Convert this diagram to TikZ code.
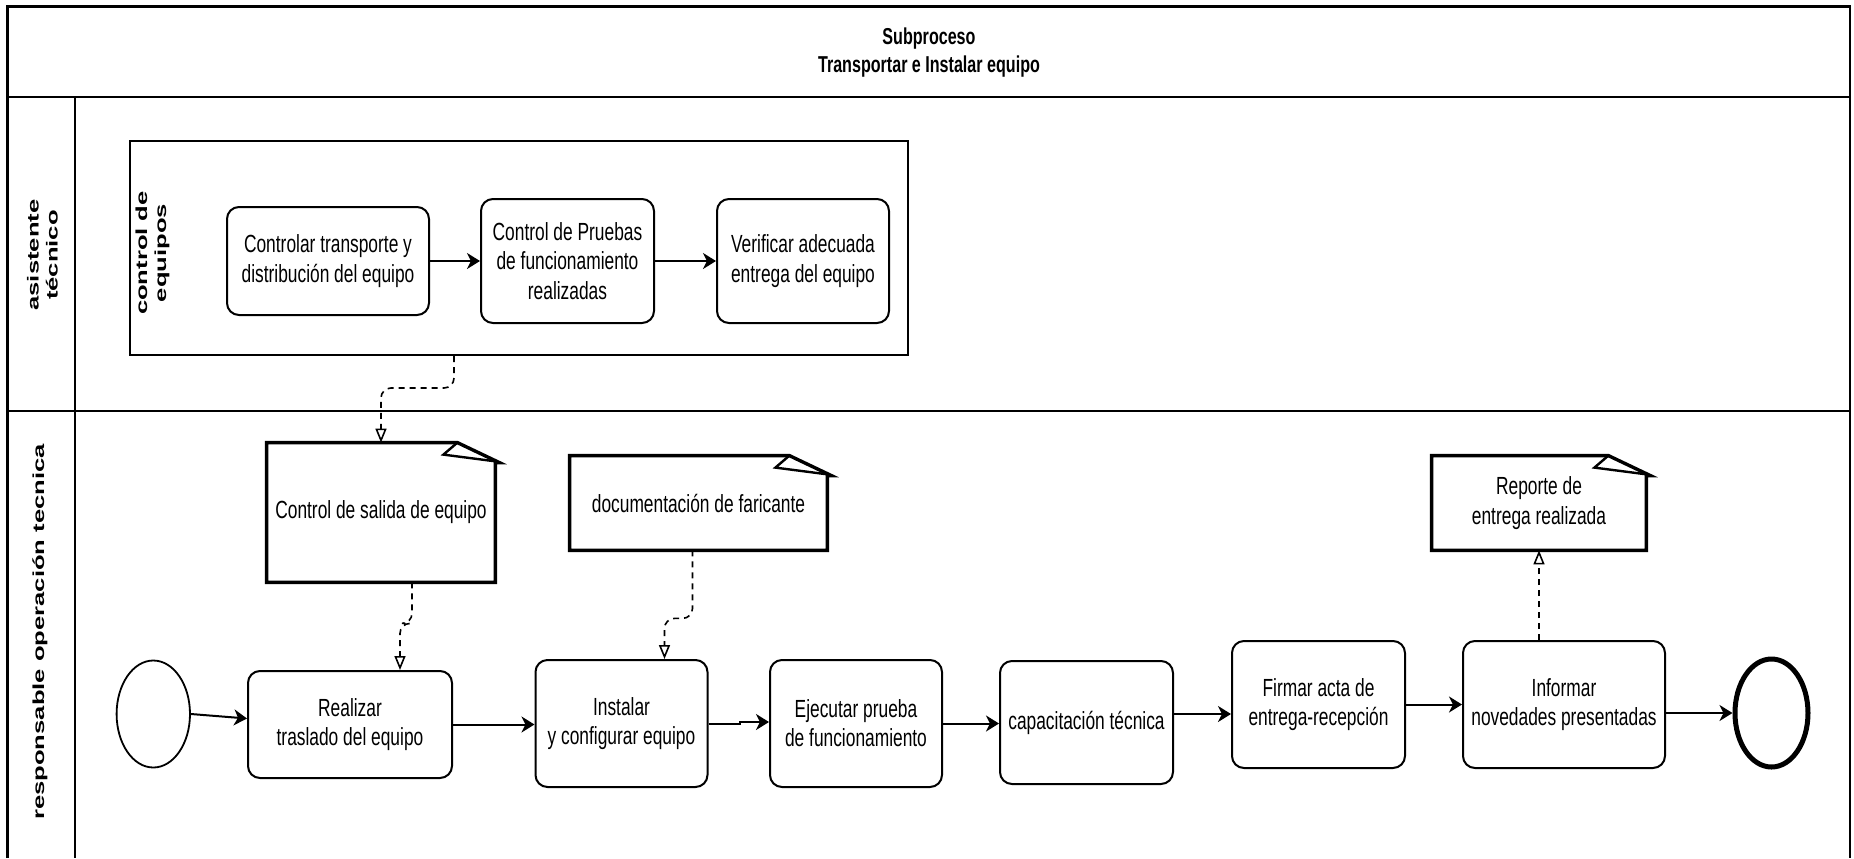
\documentclass[tikz,border=0pt]{standalone}
\usepackage{fontspec}
\setmainfont{Liberation Sans}[FakeStretch=0.7]
\newfontfamily\lanefont{Liberation Sans}[FakeStretch=1.6]
\usetikzlibrary{arrows.meta,shapes.geometric,calc}

\tikzset{
  poolline/.style={line width=1.2pt},
  labeltext/.style={font=\fontsize{12.4}{14.6}\selectfont},
  taskbox/.style={draw, line width=1pt, rounded corners=6pt, align=center,
    inner sep=0pt, labeltext},
  docnode/.style={align=center, inner sep=0pt, labeltext},
  groupbox/.style={draw, line width=1pt, inner sep=0pt},
  startevent/.style={ellipse, draw, line width=0.9pt, inner sep=0pt},
  endevent/.style={ellipse, draw, line width=2.5pt, inner sep=0pt},
  flow/.style={line width=1pt, -{Stealth[length=6.5pt,width=8pt,inset=2pt]}},
  assoc/.style={line width=0.8pt, dash pattern=on 3pt off 2.5pt, rounded corners=5pt,
    -{Triangle[open,length=7pt,width=5.5pt,fill=white]}},
  lanelabel/.style={rotate=90, align=center, inner sep=0pt,
    font=\lanefont\bfseries\fontsize{8}{9.5}\selectfont},
}

% outline of a data object with its folded corner
\newcommand\docoutline[1]{%
  \draw[line width=1.7pt, line join=miter]
    ($(#1.north east)+(-38,0)$) -- (#1.north west) -- (#1.south west)
    -- (#1.south east) -- ($(#1.north east)+(0,20)$) -- ($(#1.north east)+(4,20)$)
    -- cycle;
  \draw[line width=1.2pt, line join=miter]
    ($(#1.north east)+(-38,0)$) -- ($(#1.north east)+(-52,12)$)
    -- ($(#1.north east)+(2,19)$);
}

\begin{document}
\begin{tikzpicture}[x=0.5pt, y=-0.5pt]
\useasboundingbox (0,0) rectangle (1854,858);

% pool frame, title band and lanes
\draw[poolline] (7.5,858) -- (7.5,6.5) -- (1850,6.5) -- (1850,858);
\draw[poolline] (7.5,97) -- (1850,97);
\draw[poolline] (7.5,411) -- (1850,411);
\draw[poolline] (75,97) -- (75,858);

\node[font=\bfseries\fontsize{11.5}{14}\selectfont, align=center] (title) at (929,53)
  {Subproceso\\Transportar e Instalar equipo};

\node[lanelabel] (lane1) at (42.5,255) {asistente\\técnico};
\node[lanelabel] (lane2) at (40,632) {responsable operación tecnica};

% lane 1: control de equipos
\node[groupbox, minimum width=389pt, minimum height=107pt] (grp) at (519,248) {};
\node[lanelabel] (grplabel) at (152.5,253) {control de\\equipos};

\node[taskbox, minimum width=101pt, minimum height=54pt] (ta) at (328,261)
  {Controlar transporte y\\distribución del equipo};
\node[taskbox, minimum width=86.5pt, minimum height=62pt] (tb) at (567.5,261)
  {Control de Pruebas\\de funcionamiento\\realizadas};
\node[taskbox, minimum width=86pt, minimum height=62pt] (tc) at (803,261)
  {Verificar adecuada\\entrega del equipo};

\draw[flow] (ta) -- (tb);
\draw[flow] (tb) -- (tc);

% lane 2: data objects
\node[docnode, minimum width=114pt, minimum height=69.5pt] (d1) at (381,512.5)
  {Control de salida de equipo};
\node[docnode, minimum width=128.5pt, minimum height=47pt] (d2) at (698.5,503)
  {documentación de faricante};
\node[docnode, minimum width=107pt, minimum height=47pt] (d3) at (1539,503)
  {Reporte de\\entrega realizada};
\docoutline{d1}
\docoutline{d2}
\docoutline{d3}

% lane 2: events and tasks
\node[startevent, minimum width=36.7pt, minimum height=53.5pt] (start) at (153.3,714) {};
\node[taskbox, minimum width=102pt, minimum height=53.5pt] (r) at (350,724.5)
  {Realizar\\traslado del equipo};
\node[taskbox, minimum width=86pt, minimum height=63.5pt] (i) at (621.5,723.5)
  {Instalar\\y configurar equipo};
\node[taskbox, minimum width=86pt, minimum height=63.5pt] (e) at (856,723.5)
  {Ejecutar prueba\\de funcionamiento};
\node[taskbox, minimum width=86.5pt, minimum height=61.5pt] (cp) at (1086.5,722.5)
  {capacitación técnica};
\node[taskbox, minimum width=86.5pt, minimum height=63.5pt] (f) at (1318.5,704.5)
  {Firmar acta de\\entrega-recepción};
\node[taskbox, minimum width=101pt, minimum height=63.5pt] (inf) at (1564,704.5)
  {Informar\\novedades presentadas};
\node[endevent, minimum width=36.5pt, minimum height=54pt] (end) at (1771.5,713) {};

% sequence flow
\draw[flow] (start.east) -- ($(r.west)+(0,-6)$);
\draw[flow] (r.east) -- (r.east -| i.west);
\draw[flow] (i.east) -- ++(31,0) |- ($(e.west)+(0,-1.5)$);
\draw[flow] (e.east) -- (e.east -| cp.west);
\draw[flow] ($(cp.east)+(0,-8.5)$) coordinate (cpout) -- (cpout -| f.west);
\draw[flow] (f.east) -- (f.east -| inf.west);
\draw[flow] (inf.east |- end) -- (end.west);

% associations
\draw[assoc] ($(grp.south)+(-65,0)$) -- ++(0,32) -| (d1.north);
\draw[assoc] ($(d1.south)+(31,0)$) -- ++(0,41) -| ($(r.north)+(50,0)$);
\draw[assoc] ($(d2.south)+(-6,0)$) -- ++(0,68) -| ($(i.north)+(43,0)$);
\draw[assoc] (inf.north -| d3.south) -- (d3.south);
\end{tikzpicture}
\end{document}
